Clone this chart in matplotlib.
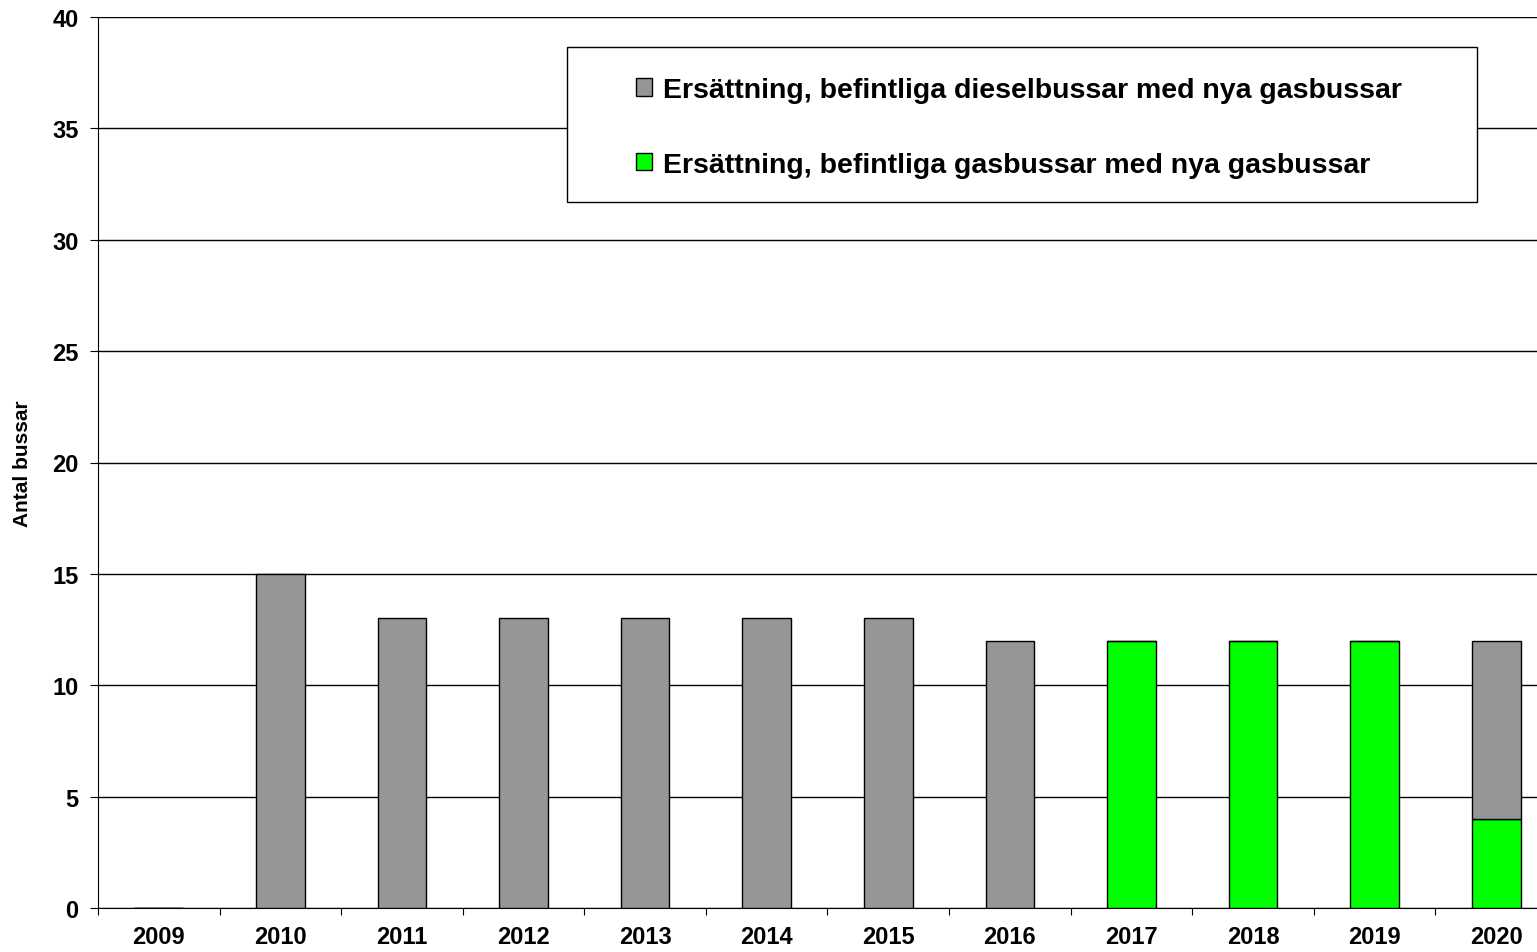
import numpy as np
import matplotlib.pyplot as plt
from matplotlib.patches import Rectangle

plt.rcParams["font.family"] = ["Liberation Sans", "DejaVu Sans"]
plt.rcParams["font.weight"] = "bold"

years = ["2009", "2010", "2011", "2012", "2013", "2014",
         "2015", "2016", "2017", "2018", "2019", "2020"]
diesel = [0, 15, 13, 13, 13, 13, 13, 12, 0, 0, 0, 8]
gas = [0, 0, 0, 0, 0, 0, 0, 0, 12, 12, 12, 4]

lbl_diesel = "Ersättning, befintliga dieselbussar med nya gasbussar"
lbl_gas = "Ersättning, befintliga gasbussar med nya gasbussar"

W, H = 1537, 953
fig = plt.figure(figsize=(W / 100, H / 100), dpi=100)
# axes runs a bit past the right edge of the figure, like the original crop
ax = fig.add_axes([98 / W, 44 / H, 1459 / W, 891 / H])

x = np.arange(len(years))
w = 0.4
b_gas = ax.bar(x, gas, w, color="#00ff00", edgecolor="black", linewidth=1, zorder=3)
b_die = ax.bar(x, diesel, w, bottom=gas, color="#969696", edgecolor="black",
               linewidth=1, zorder=3)

ax.set_xlim(-0.5, len(years) - 0.5)
ax.set_ylim(0, 40)
ax.set_yticks(np.arange(0, 41, 5))
ax.yaxis.grid(True, color="black", linewidth=1)
ax.set_axisbelow(True)

ax.set_xticks(np.arange(-0.5, len(years), 1))
ax.set_xticklabels([])
ax.set_xticks(x, minor=True)
ax.set_xticklabels(years, minor=True)
ax.tick_params(axis="x", which="minor", length=0, pad=12.5, labelsize=17)
ax.tick_params(axis="x", which="major", length=5, direction="out")
ax.tick_params(axis="y", length=6, direction="out", labelsize=17, pad=8)

for s in ["top", "right"]:
    ax.spines[s].set_visible(False)

ax.set_ylabel("Antal bussar", fontsize=15, fontweight="bold")
ax.yaxis.set_label_coords((22 - 98) / 1459, 0.5)
ax.yaxis.label.set_va("center")

# legend frame drawn separately so the padding matches the original
fig.patches.append(Rectangle((567 / W, 1 - 203 / H), 910 / W, 155 / H,
                             transform=fig.transFigure, fill=True,
                             facecolor="white", edgecolor="black",
                             linewidth=1, zorder=4))
leg = fig.legend([b_die, b_gas], [lbl_diesel, lbl_gas], loc="upper left",
                 bbox_to_anchor=(636 / W, 1 - 78 / H), fontsize=20.5,
                 frameon=False, handlelength=0.55, handleheight=0.55,
                 handletextpad=0.4, labelspacing=1.72, borderpad=0,
                 borderaxespad=0)
leg.set_zorder(5)
for t in leg.get_texts():
    t.set_fontweight("bold")

plt.savefig("out.png", dpi=100)
